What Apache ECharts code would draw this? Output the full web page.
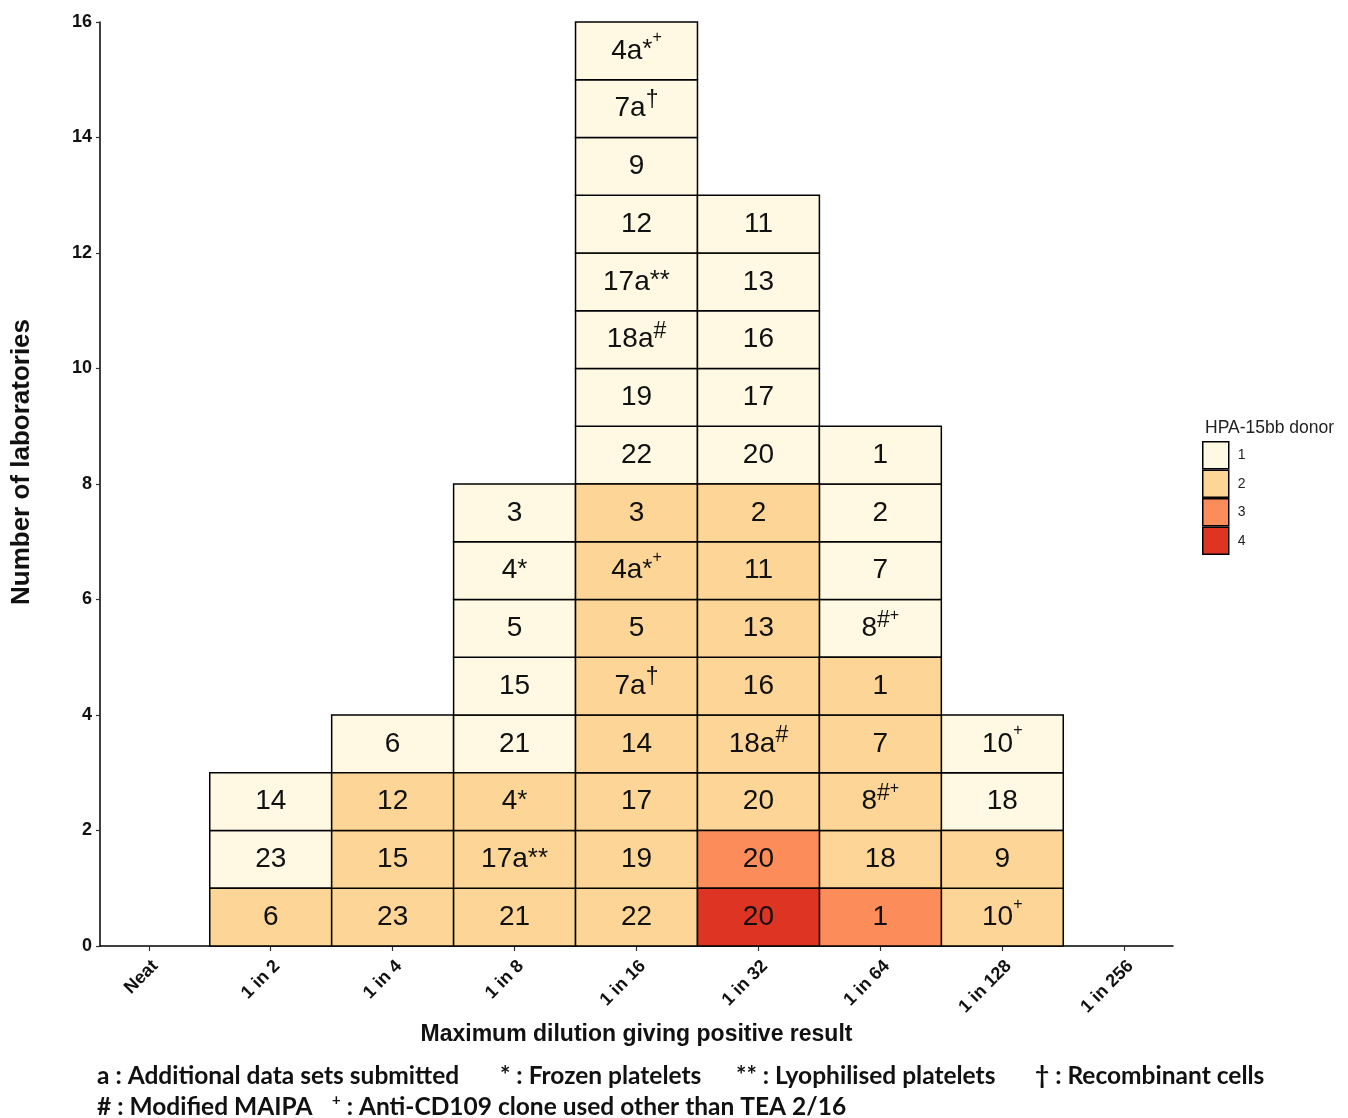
<!DOCTYPE html>
<html>
<head>
<meta charset="utf-8">
<script src="https://cdn.jsdelivr.net/npm/echarts@6/dist/echarts.min.js"></script>
<style>
html,body{margin:0;padding:0;background:#fff;}
#chart{width:1348px;height:1118px;}
</style>
</head>
<body>
<div id="chart"></div>
<script>
// ---- data ----
const categories = ['Neat', '1 in 2', '1 in 4', '1 in 8', '1 in 16', '1 in 32', '1 in 64', '1 in 128', '1 in 256'];
// tile labels per category, listed bottom to top
const tileLabels = [
  [],
  ['6', '23', '14'],
  ['23', '15', '12', '6'],
  ['21', '17a**', '4*', '21', '15', '5', '4*', '3'],
  ['22', '19', '17', '14', '7a†', '5', '4a*+', '3', '22', '19', '18a#', '17a**', '12', '9', '7a†', '4a*+'],
  ['20', '20', '20', '18a#', '16', '13', '11', '2', '20', '17', '16', '13', '11'],
  ['1', '18', '8#+', '7', '1', '8#+', '7', '2', '1'],
  ['10+', '9', '18', '10+'],
  []
];
// HPA-15bb donor for each tile, same order
const tileDonors = [
  [],
  [2, 1, 1],
  [2, 2, 2, 1],
  [2, 2, 2, 1, 1, 1, 1, 1],
  [2, 2, 2, 2, 2, 2, 2, 2, 1, 1, 1, 1, 1, 1, 1, 1],
  [4, 3, 2, 2, 2, 2, 2, 2, 1, 1, 1, 1, 1],
  [3, 2, 2, 2, 2, 1, 1, 1, 1],
  [2, 2, 1, 1],
  []
];
const donorLevels = [1, 2, 3, 4];
const donorColors = ['#FFF8E3', '#FDD597', '#FC8C5A', '#DD3424'];
const yMax = 16;
const footLine1 = [
  ['a : Additional data sets submitted', 97],
  ['* : Frozen platelets', 500],
  ['** : Lyophilised platelets', 736],
  ['† : Recombinant cells', 1035]
];

// ---- build tiles ----
const tilesByDonor = donorLevels.map(() => []);
tileLabels.forEach((col, ci) => {
  col.forEach((lbl, k) => {
    const d = tileDonors[ci][k];
    tilesByDonor[d - 1].push({ value: [ci + 1, k], label: lbl });
  });
});

function fmt(lbl) {
  const m = lbl.match(/^(\d+a?)(.*)$/);
  let out = '{b|' + m[1] + '}';
  for (const c of m[2]) {
    if (c === '*') out += '{ast|*}';
    else if (c === '+') out += '{plus|+}';
    else if (c === '#') out += '{hash|#}';
    else if (c === '†') out += '{dag|†}';
  }
  return out;
}

const FONT = "'Liberation Sans', Arial, sans-serif";
const INK = '#111';
const richStyles = {
  b: { fontSize: 28, fontFamily: FONT, fill: INK, lineHeight: 32 },
  ast: { fontSize: 26, fontFamily: FONT, fill: INK, lineHeight: 26, padding: [0, 0, 2, 0] },
  plus: { fontSize: 16, fontFamily: FONT, fill: INK, lineHeight: 16, padding: [0, 0, 26, 0] },
  hash: { fontSize: 23, fontFamily: FONT, fill: INK, lineHeight: 23, padding: [0, 0, 16, 0] },
  dag: { fontSize: 23, fontFamily: FONT, fill: INK, lineHeight: 23, padding: [0, 0, 16, 0] }
};

const series = donorLevels.map((d, i) => {
  const data = tilesByDonor[i];
  return {
    type: 'custom',
    name: String(d),
    itemStyle: { color: donorColors[i] },
    encode: { x: 0, y: 1 },
    data: data.map(t => t.value),
    renderItem: function (params, api) {
      const x = api.value(0), y = api.value(1);
      const p0 = api.coord([x - 0.5, y + 1]);
      const p1 = api.coord([x + 0.5, y]);
      return {
        type: 'rect',
        shape: { x: p0[0], y: p0[1], width: p1[0] - p0[0], height: p1[1] - p0[1] },
        style: { fill: donorColors[i], stroke: '#000', lineWidth: 1.5 },
        textContent: {
          style: { text: fmt(data[params.dataIndex].label), rich: richStyles, fill: INK, align: 'center', verticalAlign: 'middle' }
        },
        textConfig: { position: 'inside' }
      };
    }
  };
});

const chart = echarts.init(document.getElementById('chart'), null, { renderer: 'canvas' });
const tickVals = categories.map((c, i) => i + 1);
const BOLD = { fontFamily: FONT, fontWeight: 'bold', color: INK };
const FOOT = "Lato, 'Open Sans', sans-serif";

chart.setOption({
  animation: false,
  backgroundColor: '#fff',
  grid: { left: 100, right: 175, top: 22, bottom: 172, containLabel: false },
  title: {
    text: 'HPA-15bb donor', left: 1200, top: 414,
    textStyle: { fontSize: 17.5, fontWeight: 'normal', color: '#222', fontFamily: FONT }
  },
  legend: {
    orient: 'vertical', left: 1202, top: 441, padding: 0,
    itemWidth: 26, itemHeight: 27, itemGap: 0, icon: 'rect',
    itemStyle: { borderColor: '#000', borderWidth: 1.5 },
    textStyle: { fontSize: 14, color: '#222', fontFamily: FONT, padding: [0, 0, 0, 4] },
    data: donorLevels.map(String)
  },
  xAxis: {
    type: 'value', min: 0.6, max: 9.4,
    name: 'Maximum dilution giving positive result',
    nameLocation: 'middle', nameGap: 77,
    nameTextStyle: Object.assign({ fontSize: 23 }, BOLD),
    axisLine: { show: true, lineStyle: { color: '#000', width: 1.5 } },
    axisTick: { show: true, customValues: tickVals, length: 5, lineStyle: { color: '#333', width: 1.2 } },
    axisLabel: Object.assign({
      customValues: tickVals, rotate: 45, fontSize: 18, margin: 11,
      align: 'right', verticalAlign: 'top',
      formatter: v => categories[Math.round(v) - 1]
    }, BOLD),
    splitLine: { show: false }
  },
  yAxis: {
    type: 'value', min: 0, max: yMax, interval: 2,
    axisLine: { show: true, lineStyle: { color: '#000', width: 1.5 } },
    axisTick: { show: true, length: 4, lineStyle: { color: '#333', width: 1.2 } },
    axisLabel: Object.assign({ fontSize: 18, margin: 8 }, BOLD),
    splitLine: { show: false }
  },
  graphic: [
    {
      type: 'text', x: 22, y: 462, rotation: Math.PI / 2,
      style: { text: 'Number of laboratories', fontSize: 26, textAlign: 'center', textVerticalAlign: 'middle',
        fill: INK, fontWeight: 'bold', fontFamily: FONT }
    }
  ].concat(footLine1.map(f => ({
    type: 'text', x: f[1], y: 1076,
    style: { text: f[0], fontSize: 24.5, fontWeight: 'bold', fontFamily: FOOT, fill: INK, textVerticalAlign: 'middle' }
  }))).concat([
    {
      type: 'text', x: 97, y: 1107,
      style: { text: '# : Modified MAIPA', fontSize: 24.5, fontWeight: 'bold', fontFamily: FOOT, fill: INK, textVerticalAlign: 'middle' }
    },
    {
      type: 'text', x: 332, y: 1107,
      style: {
        text: '{s|+}{t| : Anti-CD109 clone used other than TEA 2/16}',
        textVerticalAlign: 'middle',
        rich: {
          s: { fontSize: 15, fontWeight: 'bold', fontFamily: FOOT, fill: INK, padding: [0, 0, 14, 0] },
          t: { fontSize: 24.5, fontWeight: 'bold', fontFamily: FOOT, fill: INK }
        }
      }
    }
  ]),
  series: series
});
</script>
</body>
</html>
